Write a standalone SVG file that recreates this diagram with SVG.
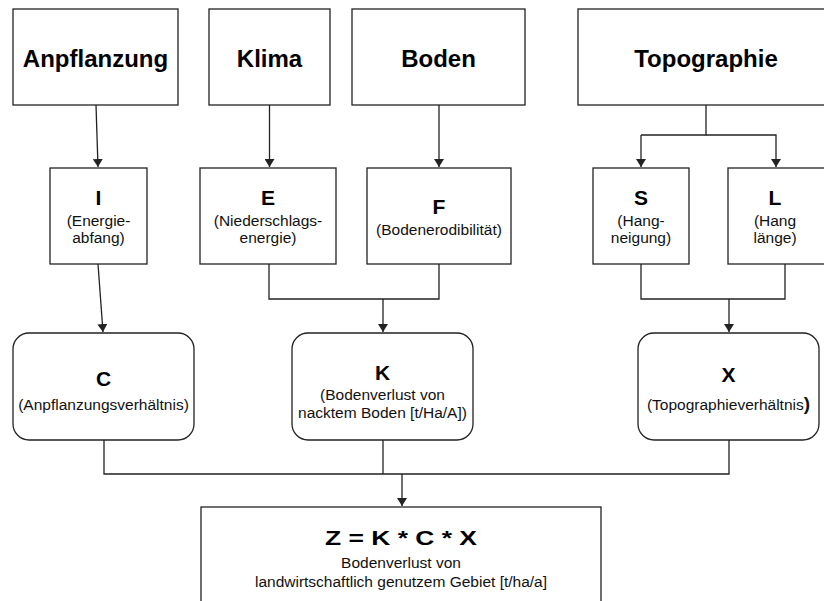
<svg xmlns="http://www.w3.org/2000/svg" width="824" height="601" viewBox="0 0 824 601">
  <defs>
    <marker id="arr" viewBox="0 0 8 10" refX="8" refY="5" markerWidth="8" markerHeight="10" markerUnits="userSpaceOnUse" orient="auto">
      <path d="M0,0 L8,5 L0,10 Z" fill="#222"/>
    </marker>
  </defs>
  <style>
    .box { fill: #fff; stroke: #222; stroke-width: 1.3; }
    .title { font-family: "Liberation Sans", Arial, sans-serif; font-weight: bold; font-size: 24px; fill: #000; text-anchor: middle; }
    .sym { font-family: "Liberation Sans", Arial, sans-serif; font-weight: bold; font-size: 21px; fill: #000; text-anchor: middle; }
    .sub { font-family: "Liberation Sans", Arial, sans-serif; font-size: 15.5px; fill: #111; text-anchor: middle; }
    .line { fill: none; stroke: #222; stroke-width: 1.3; }
  </style>
  <rect width="824" height="601" fill="#fff"/>

  <!-- top level factors -->
  <g id="anpflanzung">
    <rect class="box" x="13" y="9" width="165" height="96"/>
    <text class="title" x="95.5" y="67">Anpflanzung</text>
  </g>
  <g id="klima">
    <rect class="box" x="209" y="9" width="121" height="96"/>
    <text class="title" x="269.5" y="67">Klima</text>
  </g>
  <g id="boden">
    <rect class="box" x="352" y="9" width="173" height="96"/>
    <text class="title" x="438.5" y="67">Boden</text>
  </g>
  <g id="topographie">
    <rect class="box" x="578" y="9" width="260" height="96"/>
    <text class="title" x="706" y="67">Topographie</text>
  </g>

  <!-- second row -->
  <g id="node-i">
    <rect class="box" x="50" y="168" width="97" height="96"/>
    <text class="sym" x="98.5" y="205">I</text>
    <text class="sub" x="98.5" y="226">(Energie-</text>
    <text class="sub" x="98.5" y="243">abfang)</text>
  </g>
  <g id="node-e">
    <rect class="box" x="200" y="168" width="136" height="96"/>
    <text class="sym" x="268" y="205">E</text>
    <text class="sub" x="268" y="226">(Niederschlags-</text>
    <text class="sub" x="268" y="243">energie)</text>
  </g>
  <g id="node-f">
    <rect class="box" x="367" y="168" width="144" height="96"/>
    <text class="sym" x="439" y="214">F</text>
    <text class="sub" x="439" y="235">(Bodenerodibilität)</text>
  </g>
  <g id="node-s">
    <rect class="box" x="593" y="168" width="96" height="96"/>
    <text class="sym" x="641" y="205">S</text>
    <text class="sub" x="641" y="226">(Hang-</text>
    <text class="sub" x="641" y="243">neigung)</text>
  </g>
  <g id="node-l">
    <rect class="box" x="728" y="168" width="100" height="96"/>
    <text class="sym" x="775" y="205">L</text>
    <text class="sub" x="775" y="226">(Hang</text>
    <text class="sub" x="775" y="243">länge)</text>
  </g>

  <!-- third row -->
  <g id="node-c">
    <rect class="box" x="13" y="333" width="181" height="107" rx="16" ry="16"/>
    <text class="sym" x="103.5" y="386">C</text>
    <text class="sub" x="103.5" y="410">(Anpflanzungsverhältnis)</text>
  </g>
  <g id="node-k">
    <rect class="box" x="292" y="333" width="181" height="107" rx="16" ry="16"/>
    <text class="sym" x="382.5" y="380">K</text>
    <text class="sub" x="382.5" y="400">(Bodenverlust von</text>
    <text class="sub" x="382.5" y="418">nacktem Boden [t/Ha/A])</text>
  </g>
  <g id="node-x">
    <rect class="box" x="638" y="333" width="181" height="107" rx="16" ry="16"/>
    <text class="sym" x="728.5" y="382">X</text>
    <text class="sub" x="728.5" y="410">(Topographieverhältnis<tspan font-weight="bold" font-size="19px">)</tspan></text>
  </g>

  <!-- result -->
  <g id="node-z">
    <rect class="box" x="201" y="507" width="400" height="110"/>
    <text class="sym" x="401" y="545" font-size="26px" textLength="152" lengthAdjust="spacingAndGlyphs">Z = K * C * X</text>
    <text class="sub" x="401" y="568" font-size="16px">Bodenverlust von</text>
    <text class="sub" x="401" y="587" font-size="16px">landwirtschaftlich genutzem Gebiet [t/ha/a]</text>
  </g>

  <!-- connectors -->
  <g id="connectors">
    <line class="line" x1="96" y1="105" x2="98" y2="167" marker-end="url(#arr)"/>
    <line class="line" x1="269.5" y1="105" x2="269.5" y2="167" marker-end="url(#arr)"/>
    <line class="line" x1="439" y1="105" x2="439" y2="167" marker-end="url(#arr)"/>
    <polyline class="line" points="706,105 706,135 641,135"/>
    <line class="line" x1="641" y1="135" x2="641" y2="167" marker-end="url(#arr)"/>
    <polyline class="line" points="706,135 776,135 776,167" marker-end="url(#arr)"/>

    <line class="line" x1="98" y1="264" x2="103" y2="332" marker-end="url(#arr)"/>
    <polyline class="line" points="269,264 269,299 439,299 439,264"/>
    <line class="line" x1="383" y1="299" x2="383" y2="332" marker-end="url(#arr)"/>
    <polyline class="line" points="641,264 641,299 785,299 785,264"/>
    <line class="line" x1="729" y1="299" x2="729" y2="332" marker-end="url(#arr)"/>

    <polyline class="line" points="104,440 104,474 729,474 729,440"/>
    <line class="line" x1="383" y1="440" x2="383" y2="474"/>
    <line class="line" x1="402" y1="474" x2="402" y2="506" marker-end="url(#arr)"/>
  </g>
</svg>
